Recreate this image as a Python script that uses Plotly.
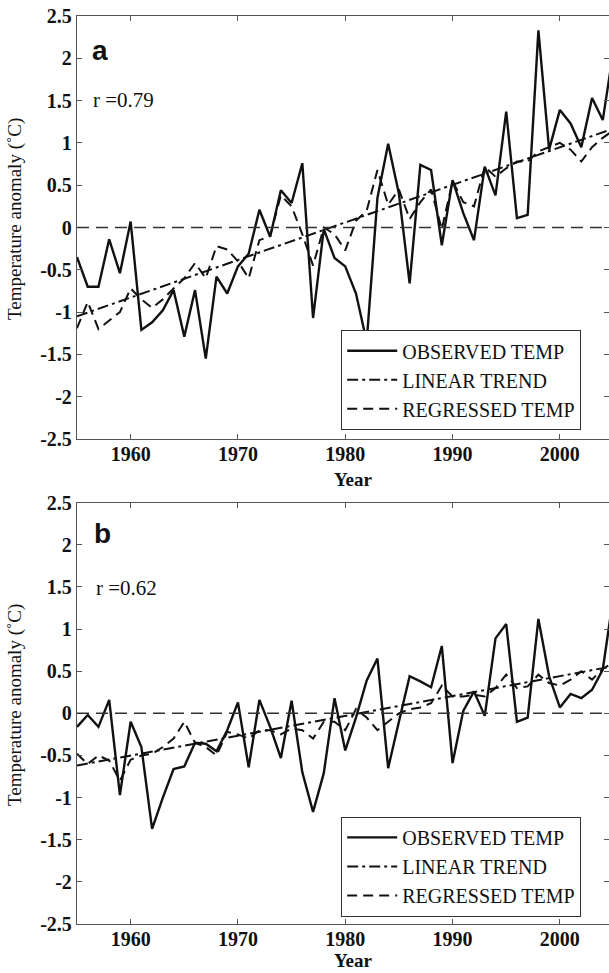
import plotly.graph_objects as go

years = list(range(1955, 2006))

obs_a = [-0.35, -0.70, -0.70, -0.14, -0.54, 0.07, -1.21, -1.12, -0.98, -0.74,
         -1.29, -0.74, -1.55, -0.58, -0.78, -0.46, -0.31, 0.21, -0.11, 0.44,
         0.29, 0.76, -1.07, -0.02, -0.36, -0.46, -0.78, -1.35, 0.35, 0.99,
         0.40, -0.66, 0.74, 0.68, -0.21, 0.56, 0.17, -0.15, 0.72, 0.38,
         1.37, 0.11, 0.15, 2.33, 0.92, 1.39, 1.23, 0.95, 1.53, 1.27, 2.10]
reg_a = [-1.19, -0.88, -1.20, -1.10, -1.00, -0.72, -0.85, -0.95, -0.85, -0.72,
         -0.60, -0.42, -0.60, -0.22, -0.26, -0.40, -0.60, -0.15, -0.10, 0.38,
         0.25, -0.08, -0.45, 0.00, -0.08, -0.27, 0.08, 0.20, 0.68, 0.27,
         0.45, 0.10, 0.30, 0.45, -0.02, 0.55, 0.30, 0.25, 0.72, 0.60,
         0.70, 0.78, 0.78, 0.90, 0.95, 1.00, 0.92, 0.78, 0.95, 1.06, 1.15]
trend_years = [1955, 2005]
trend_a = [-1.05, 1.17]

obs_b = [-0.16, -0.02, -0.16, 0.16, -0.97, -0.10, -0.40, -1.37, -1.00, -0.66,
         -0.63, -0.35, -0.36, -0.45, -0.20, 0.13, -0.64, 0.16, -0.16, -0.53,
         0.15, -0.70, -1.17, -0.71, 0.18, -0.44, -0.05, 0.39, 0.65, -0.65,
         -0.10, 0.44, 0.38, 0.31, 0.80, -0.59, 0.03, 0.26, -0.03, 0.89,
         1.06, -0.10, -0.05, 1.12, 0.44, 0.07, 0.23, 0.18, 0.28, 0.52, 1.40]
reg_b = [-0.48, -0.60, -0.50, -0.56, -0.80, -0.55, -0.50, -0.48, -0.40, -0.30,
         -0.10, -0.35, -0.40, -0.50, -0.22, -0.25, -0.30, -0.20, -0.20, -0.25,
         -0.18, -0.20, -0.30, -0.10, -0.10, -0.20, 0.05, -0.05, -0.20, -0.10,
         0.00, 0.05, 0.07, 0.12, 0.33, 0.20, 0.20, 0.22, 0.20, 0.30,
         0.46, 0.30, 0.32, 0.46, 0.36, 0.33, 0.40, 0.50, 0.40, 0.53, 0.60]
trend_b = [-0.62, 0.56]

x_ticks = [1960, 1970, 1980, 1990, 2000]
y_ticks = [2.5, 2, 1.5, 1, 0.5, 0, -0.5, -1, -1.5, -2, -2.5]
y_ticktext = ["2.5", "2", "1.5", "1", "0.5", "0", "-0.5", "-1", "-1.5", "-2", "-2.5"]
series_names = ["OBSERVED TEMP", "LINEAR TREND", "REGRESSED TEMP"]
panel_labels = ["a", "b"]
r_labels = ["r =0.79", "r =0.62"]

SERIF = "Liberation Serif"
INK = "#111111"
AX = "#555555"

fig = go.Figure()

panels = [
    ("x", "y", "legend", obs_a, trend_a, reg_a),
    ("x2", "y2", "legend2", obs_b, trend_b, reg_b),
]
for xa, ya, lg, obs, tr, reg in panels:
    fig.add_trace(go.Scatter(x=years, y=obs, xaxis=xa, yaxis=ya, legend=lg,
                             mode="lines", name=series_names[0],
                             line=dict(color=INK, width=2.4)))
    fig.add_trace(go.Scatter(x=trend_years, y=tr, xaxis=xa, yaxis=ya, legend=lg,
                             mode="lines", name=series_names[1],
                             line=dict(color=INK, width=2, dash="11px,4px,3px,4px")))
    fig.add_trace(go.Scatter(x=years, y=reg, xaxis=xa, yaxis=ya, legend=lg,
                             mode="lines", name=series_names[2],
                             line=dict(color=INK, width=2, dash="10px,6px")))

xrange = [1955, 2004.58]
common_x = dict(range=xrange, tickvals=x_ticks, ticks="inside", ticklen=5,
                tickcolor=AX, showline=True, linecolor=AX, linewidth=1.3,
                mirror="ticks", showgrid=False, zeroline=False, ticklabelstandoff=-3,
                tickfont=dict(family=SERIF, size=20, color=INK, weight="bold"))
common_y = dict(range=[-2.5, 2.5], tickvals=y_ticks, ticktext=y_ticktext,
                ticks="inside", ticklen=5, tickcolor=AX, showline=True,
                linecolor=AX, linewidth=1.3, mirror="ticks", showgrid=False,
                zeroline=False,
                tickfont=dict(family=SERIF, size=20, color=INK, weight="bold"))

H_TOP, H_BOT, H_TOTAL = 16, 49, 973
ph = H_TOTAL - H_TOP - H_BOT
fig.update_layout(
    width=609, height=973,
    margin=dict(l=77, r=0, t=H_TOP, b=H_BOT),
    paper_bgcolor="white", plot_bgcolor="white",
    xaxis=dict(anchor="y", **common_x),
    yaxis=dict(anchor="x", domain=[(924 - 439) / ph, 1], **common_y),
    xaxis2=dict(anchor="y2", **common_x),
    yaxis2=dict(anchor="x2", domain=[0, (924 - 502.7) / ph], **common_y),
    showlegend=True,
)

leg_common = dict(xanchor="left", yanchor="bottom", bgcolor="white",
                  bordercolor="#333333", borderwidth=1.2, itemwidth=50,
                  tracegroupgap=0, traceorder="normal",
                  font=dict(family=SERIF, size=20, color=INK))
fig.update_layout(
    legend=dict(x=(341 - 77) / 532, y=(924 - 430) / ph, **leg_common),
    legend2=dict(x=(341 - 77) / 532, y=(924 - 916.7) / ph, **leg_common),
)

for ya in ["y", "y2"]:
    fig.add_shape(type="line", xref="x domain" if ya == "y" else "x2 domain",
                  yref=ya, x0=0, x1=1, y0=0, y1=0,
                  line=dict(color="#333333", width=1.5, dash="12px,7px"))

ann = []
# panel letters
ann.append(dict(text="<b>" + panel_labels[0] + "</b>", xref="paper", yref="y domain",
                x=(90 - 77) / 532, y=1 - (50 - 16) / 423, xanchor="left", yanchor="middle",
                showarrow=False, font=dict(family="Liberation Sans", size=28, color=INK)))
ann.append(dict(text="<b>" + panel_labels[1] + "</b>", xref="paper", yref="y2 domain",
                x=(92 - 77) / 532, y=1 - (533 - 502.7) / 421.3, xanchor="left",
                yanchor="middle", showarrow=False,
                font=dict(family="Liberation Sans", size=28, color=INK)))
ann.append(dict(text=r_labels[0], xref="paper", yref="y domain", x=(91 - 77) / 532,
                y=1 - (100 - 16) / 423, xanchor="left", yanchor="middle", showarrow=False,
                font=dict(family=SERIF, size=21, color=INK)))
ann.append(dict(text=r_labels[1], xref="paper", yref="y2 domain", x=(94 - 77) / 532,
                y=1 - (588 - 502.7) / 421.3, xanchor="left", yanchor="middle", showarrow=False,
                font=dict(family=SERIF, size=21, color=INK)))
# x-axis titles
ann.append(dict(text="<b>Year</b>", xref="paper", yref="paper", x=(353 - 77) / 532,
                y=(924 - 479) / ph, xanchor="center", yanchor="middle", showarrow=False,
                font=dict(family=SERIF, size=19, color=INK)))
ann.append(dict(text="<b>Year</b>", xref="paper", yref="paper", x=(353 - 77) / 532,
                y=(924 - 973) / ph, xanchor="center", yanchor="bottom", showarrow=False,
                font=dict(family=SERIF, size=19, color=INK)))
# y-axis titles
for yc in [219, 705]:
    ann.append(dict(text="Temperature anomaly (˚C)", xref="paper", yref="paper",
                    x=(15 - 77) / 532, y=(924 - yc) / ph, xanchor="center",
                    yanchor="middle", textangle=-90, showarrow=False,
                    font=dict(family=SERIF, size=19, color=INK)))
fig.update_layout(annotations=ann)

fig.write_html("out.html", config={"displayModeBar": False},
               post_script="document.body.style.margin='0';document.body.style.overflow='hidden';")
